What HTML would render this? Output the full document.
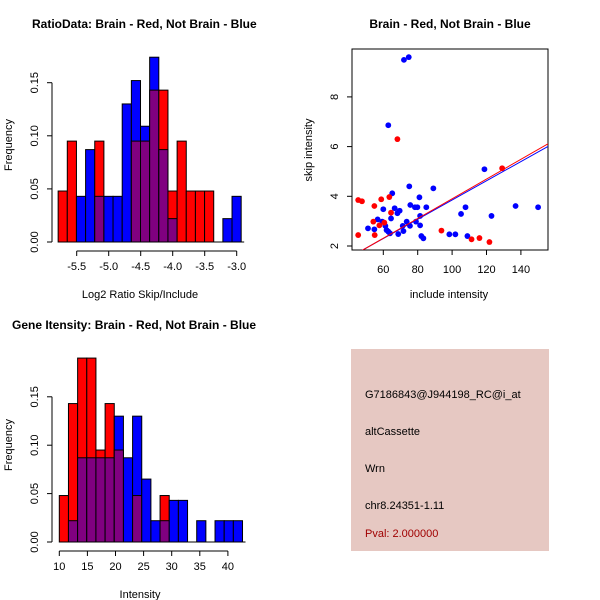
<!DOCTYPE html>
<html><head><meta charset="utf-8"><style>
body{margin:0;background:#fff}
svg{display:block;font-family:"Liberation Sans",sans-serif}
.t{font-weight:bold;font-size:12px}
.l{font-size:11px}
</style></head><body>
<svg id="s" width="600" height="600">
<text class="t" x="32" y="28">RatioData: Brain - Red, Not Brain - Blue</text>
<text class="t" x="450" y="28" text-anchor="middle">Brain - Red, Not Brain - Blue</text>
<text class="t" x="12" y="329">Gene Itensity: Brain - Red, Not Brain - Blue</text>
<text class="l" x="140" y="298" text-anchor="middle">Log2 Ratio Skip/Include</text>
<text class="l" x="0" y="0" transform="translate(12,145) rotate(-90)" text-anchor="middle">Frequency</text>
<text class="l" x="140" y="598" text-anchor="middle">Intensity</text>
<text class="l" x="0" y="0" transform="translate(12,445) rotate(-90)" text-anchor="middle">Frequency</text>
<text class="l" x="449" y="298" text-anchor="middle">include intensity</text>
<text class="l" x="0" y="0" transform="translate(312,150) rotate(-90)" text-anchor="middle">skip intensity</text>
<g>
<rect x="351" y="349" width="198" height="202" fill="#e6c8c2"/>
<text class="l" x="365" y="398">G7186843@J944198_RC@i_at</text>
<text class="l" x="365" y="435">altCassette</text>
<text class="l" x="365" y="472">Wrn</text>
<text class="l" x="365" y="509">chr8.24351-1.11</text>
<text class="l" x="365" y="537" fill="#a00000">Pval: 2.000000</text>
</g>
</svg>
<script>
// Ratio histogram data
const ratioBinStart=-5.79, ratioBinWidth=0.143;
const ratioRed=[0.048,0.095,0,0,0.095,0,0,0,0.095,0.095,0.143,0.143,0.048,0.095,0.048,0.048,0.048,0,0,0];
const ratioBlue=[0,0,0.043,0.087,0.043,0.043,0.043,0.130,0.152,0.109,0.174,0.087,0.022,0,0,0,0,0,0.022,0.043];
const ratioXTicks=[-5.5,-5.0,-4.5,-4.0,-3.5,-3.0];
const ratioXLabels=["-5.5","-5.0","-4.5","-4.0","-3.5","-3.0"];
const freqTicks=[0,0.05,0.10,0.15];
const freqLabels=["0.00","0.05","0.10","0.15"];
// Intensity histogram data
const intBinStart=10, intBinWidth=1.63;
const intRed=[0.048,0.143,0.19,0.19,0.095,0.143,0.095,0,0.048,0,0,0.048,0,0,0,0,0,0,0,0];
const intBlue=[0,0.022,0.087,0.087,0.087,0.087,0.130,0.087,0.130,0.065,0.022,0.022,0.043,0.043,0,0.022,0,0.022,0.022,0.022];
const intXTicks=[10,15,20,25,30,35,40];
const intXLabels=["10","15","20","25","30","35","40"];
// Scatter data
const blueX=[72,74.8,62.9,118.8,75.1,89.1,65.2,81,75.7,78.4,79.8,85,66.6,69.5,68.2,136.9,150,107.8,105.2,122.9,64.5,81.4,60,56.7,51.1,54.8,59.4,61.2,61.9,62.9,63.9,73.6,79,81.4,71.3,71.7,68.7,75.5,82.1,83.3,98.4,101.9,108.9];
const blueY=[9.49,9.6,6.86,5.09,4.4,4.32,4.12,3.96,3.65,3.56,3.56,3.56,3.52,3.42,3.32,3.61,3.56,3.56,3.29,3.21,3.11,3.21,3.48,3.07,2.71,2.67,2.98,2.81,2.64,2.58,2.51,2.98,2.98,2.83,2.81,2.6,2.48,2.81,2.4,2.31,2.47,2.47,2.4];
const redX=[68.2,129.1,45.4,47.6,54.8,58.8,63.5,64.5,54.2,57.7,60.6,55,45.4,93.8,111.3,115.9,121.7];
const redY=[6.3,5.13,3.85,3.8,3.61,3.88,3.97,3.34,2.98,2.83,2.94,2.44,2.44,2.62,2.27,2.32,2.16];
const fitBlue=[-0.02,0.0387];
const fitRed=[-0.07,0.0397];
const scXTicks=[60,80,100,120,140];
const scYTicks=[2,4,6,8];

const NS="http://www.w3.org/2000/svg", svg=document.getElementById('s');
function mk(tag,at,txt){const e=document.createElementNS(NS,tag);for(const k in at)e.setAttribute(k,at[k]);if(txt!==undefined)e.textContent=txt;svg.appendChild(e);return e;}

function hist(o){
  const X=v=>o.x0+(v-o.v0)*o.sx, Y=v=>o.y0-v*o.sy;
  o.red.forEach((r,i)=>{
    const b=o.blue[i], a=o.bs+i*o.bw, x1=X(a), x2=X(a+o.bw);
    const hi=Math.max(r,b), lo=Math.min(r,b);
    if(hi>0){const e=mk('rect',{x:x1,y:Y(hi),width:x2-x1,height:Y(0)-Y(hi),fill:r>b?'#ff0000':'#0000ff',stroke:'#000','stroke-width':1});
      
      }
    if(lo>0){const e=mk('rect',{x:x1,y:Y(lo),width:x2-x1,height:Y(0)-Y(lo),fill:'#800080',stroke:'#000','stroke-width':1});
      
      }
  });
  const ax=52;
  let e=mk('line',{x1:ax,x2:ax,y1:Y(0),y2:Y(0.15),stroke:'#000'});
  
  
  freqTicks.forEach((t,i)=>{mk('line',{x1:ax-5,x2:ax,y1:Y(t),y2:Y(t),stroke:'#000'});
    const tx=mk('text',{class:'l',transform:`translate(${ax-14},${Y(t)}) rotate(-90)`,'text-anchor':'middle'},freqLabels[i]);
    
    });
  const ay=o.ay;
  e=mk('line',{x1:X(o.xt[0]),x2:X(o.xt[o.xt.length-1]),y1:ay,y2:ay,stroke:'#000'});
  
  
  o.xt.forEach((t,i)=>{mk('line',{x1:X(t),x2:X(t),y1:ay,y2:ay+5,stroke:'#000'});
    const tx=mk('text',{class:'l',x:X(t),y:ay+19,'text-anchor':'middle'},o.xl[i]);
    
    });
  mk('line',{x1:X(o.bs),x2:X(o.bs+o.bw*20)+3,y1:Y(0),y2:Y(0),stroke:'#000'});
}
hist({p:'ratio',red:ratioRed,blue:ratioBlue,bs:ratioBinStart,bw:ratioBinWidth,v0:-5.5,x0:76.7,sx:64,y0:242,sy:1062,ay:251,xt:ratioXTicks,xl:ratioXLabels});
hist({p:'intensity',red:intRed,blue:intBlue,bs:intBinStart,bw:intBinWidth,v0:10,x0:59.3,sx:5.62,y0:542,sy:968,ay:551,xt:intXTicks,xl:intXLabels});

// scatter
const SX=v=>383.3+(v-60)*1.72, SY=v=>246-(v-2)*24.85;
mk('defs',{}).innerHTML='<clipPath id="cp"><rect x="352" y="49" width="196" height="201"/></clipPath>';
let bx=mk('rect',{x:352,y:49,width:196,height:201,fill:'none',stroke:'#000'});


scXTicks.forEach(t=>{mk('line',{x1:SX(t),x2:SX(t),y1:250,y2:255,stroke:'#000'});
  const tx=mk('text',{class:'l',x:SX(t),y:273,'text-anchor':'middle'},String(t));
  
  });
scYTicks.forEach(t=>{mk('line',{x1:347,x2:352,y1:SY(t),y2:SY(t),stroke:'#000'});
  const tx=mk('text',{class:'l',transform:`translate(338,${SY(t)}) rotate(-90)`,'text-anchor':'middle'},String(t));
  
  });
blueX.forEach((x,i)=>{const c=mk('circle',{cx:SX(x),cy:SY(blueY[i]),r:2.9,fill:'#0000ff'});
  
  });
redX.forEach((x,i)=>{const c=mk('circle',{cx:SX(x),cy:SY(redY[i]),r:2.9,fill:'#ff0000'});
  
  });
[[fitBlue,'#0000ff','blue-fit-line'],[fitRed,'#ff0000','red-fit-line']].forEach(([f,c,n])=>{
  const a=40,b=160;
  const l=mk('line',{x1:SX(a),y1:SY(f[0]+f[1]*a),x2:SX(b),y2:SY(f[0]+f[1]*b),stroke:c,'clip-path':'url(#cp)'});
  
  });
</script>
</body></html>
